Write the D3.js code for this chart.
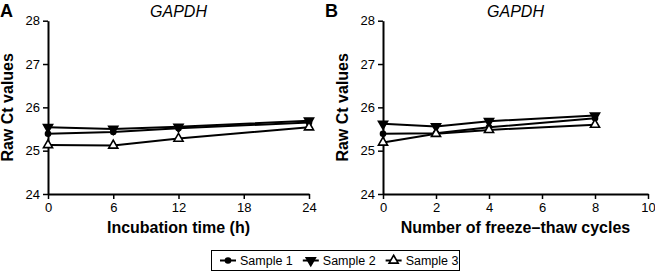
<!DOCTYPE html>
<html>
<head>
<meta charset="utf-8">
<script src="https://cdn.jsdelivr.net/npm/d3@7"></script>
<style>
  body { margin: 0; background: #fff; }
  svg { font-family: "Liberation Sans", Arial, sans-serif; }
</style>
</head>
<body>
<div id="chart"></div>
<script>
// ---- data ----
const seriesNames = ["Sample 1", "Sample 2", "Sample 3"];
const yTicks = [24, 25, 26, 27, 28];

const hoursA = [0, 6, 12, 24];
const sample1A = [25.39, 25.43, 25.52, 25.65];
const sample2A = [25.54, 25.5, 25.55, 25.69];
const sample3A = [25.13, 25.12, 25.28, 25.54];
const xTicksA = [0, 6, 12, 18, 24];

const cyclesB = [0, 2, 4, 8];
const sample1B = [25.39, 25.4, 25.54, 25.75];
const sample2B = [25.62, 25.56, 25.68, 25.81];
const sample3B = [25.19, 25.39, 25.48, 25.6];
const xTicksB = [0, 2, 4, 6, 8, 10];

const width = 655, height = 275;
const svg = d3.select("#chart").append("svg")
  .attr("width", width).attr("height", height);

const sym = {
  "Sample 1": { type: d3.symbolCircle, size: 20, fill: "#000" },
  "Sample 2": { type: d3.symbolTriangle, size: 36, fill: "#000", rot: 180 },
  "Sample 3": { type: d3.symbolTriangle, size: 36, fill: "#fff" }
};

function drawMarker(g, name, x, y) {
  const s = sym[name];
  g.append("path")
    .attr("d", d3.symbol().type(s.type).size(s.size)())
    .attr("transform", `translate(${x},${y}) rotate(${s.rot || 0})`)
    .attr("fill", s.fill)
    .attr("stroke", "#000")
    .attr("stroke-width", 1.6);
}

function panel(opt) {
  const x = d3.scaleLinear().domain(opt.xDomain).range([opt.left, opt.right]);
  const y = d3.scaleLinear().domain([24, 28]).range([194, 20.7]);
  const g = svg.append("g");

  const xAxis = g.append("g")
    .attr("transform", `translate(0,${y(24)})`)
    .call(d3.axisBottom(x).tickValues(opt.xTicks).tickFormat(d3.format("d"))
      .tickSize(5).tickSizeOuter(0).tickPadding(4));
  const yAxis = g.append("g")
    .attr("transform", `translate(${x(0)},0)`)
    .call(d3.axisLeft(y).tickValues(yTicks).tickFormat(d3.format("d"))
      .tickSize(5).tickSizeOuter(0).tickPadding(3));
  [xAxis, yAxis].forEach(a => {
    a.select(".domain").attr("stroke-width", 2);
    a.selectAll(".tick line").attr("stroke-width", 1.5);
    a.selectAll("text").style("font-size", "13px").attr("fill", "#000")
      .style("font-family", "Liberation Sans, Arial, sans-serif");
  });

  const line = d3.line().x(d => x(d[0])).y(d => y(d[1]));
  opt.series.forEach(vals => {
    const pts = opt.xs.map((v, j) => [v, vals[j]]);
    g.append("path").datum(pts)
      .attr("fill", "none").attr("stroke", "#000").attr("stroke-width", 2)
      .attr("d", line);
  });
  opt.series.forEach((vals, i) => {
    opt.xs.forEach((v, j) => drawMarker(g, seriesNames[i], x(v), y(vals[j])));
  });

  const cx = (opt.left + opt.right) / 2;
  g.append("text").attr("x", cx).attr("y", 17).attr("text-anchor", "middle")
    .style("font-size", "16px").style("font-style", "italic").text("GAPDH");
  g.append("text").attr("x", opt.letterX).attr("y", 17)
    .style("font-size", "18px").style("font-weight", "bold").text(opt.letter);
  g.append("text").attr("x", cx).attr("y", 233).attr("text-anchor", "middle")
    .style("font-size", "16px").style("font-weight", "bold").text(opt.xTitle);
  g.append("text")
    .attr("transform", `translate(${opt.left - 35},${y(26)}) rotate(-90)`)
    .attr("text-anchor", "middle")
    .style("font-size", "16px").style("font-weight", "bold").text("Raw Ct values");
}

panel({
  xDomain: [0, 24], left: 48, right: 309, xTicks: xTicksA, xs: hoursA,
  series: [sample1A, sample2A, sample3A],
  letter: "A", letterX: 0, xTitle: "Incubation time (h)"
});
panel({
  xDomain: [0, 10], left: 383, right: 648, xTicks: xTicksB, xs: cyclesB,
  series: [sample1B, sample2B, sample3B],
  letter: "B", letterX: 325, xTitle: "Number of freeze\u2013thaw cycles"
});

// ---- legend ----
const legend = svg.append("g");
legend.append("rect").attr("x", 211.5).attr("y", 250.5).attr("width", 248).attr("height", 20)
  .attr("fill", "#fff").attr("stroke", "#000").attr("stroke-width", 1);
let lx = 220;
seriesNames.forEach(name => {
  legend.append("line").attr("x1", lx).attr("x2", lx + 16)
    .attr("y1", 260.5).attr("y2", 260.5).attr("stroke", "#000").attr("stroke-width", 2);
  drawMarker(legend, name, lx + 8, 260.5);
  const t = legend.append("text").attr("x", lx + 20).attr("y", 265)
    .style("font-size", "12.5px").text(name);
  lx += 20 + t.node().getComputedTextLength() + 10;
});
</script>
</body>
</html>
